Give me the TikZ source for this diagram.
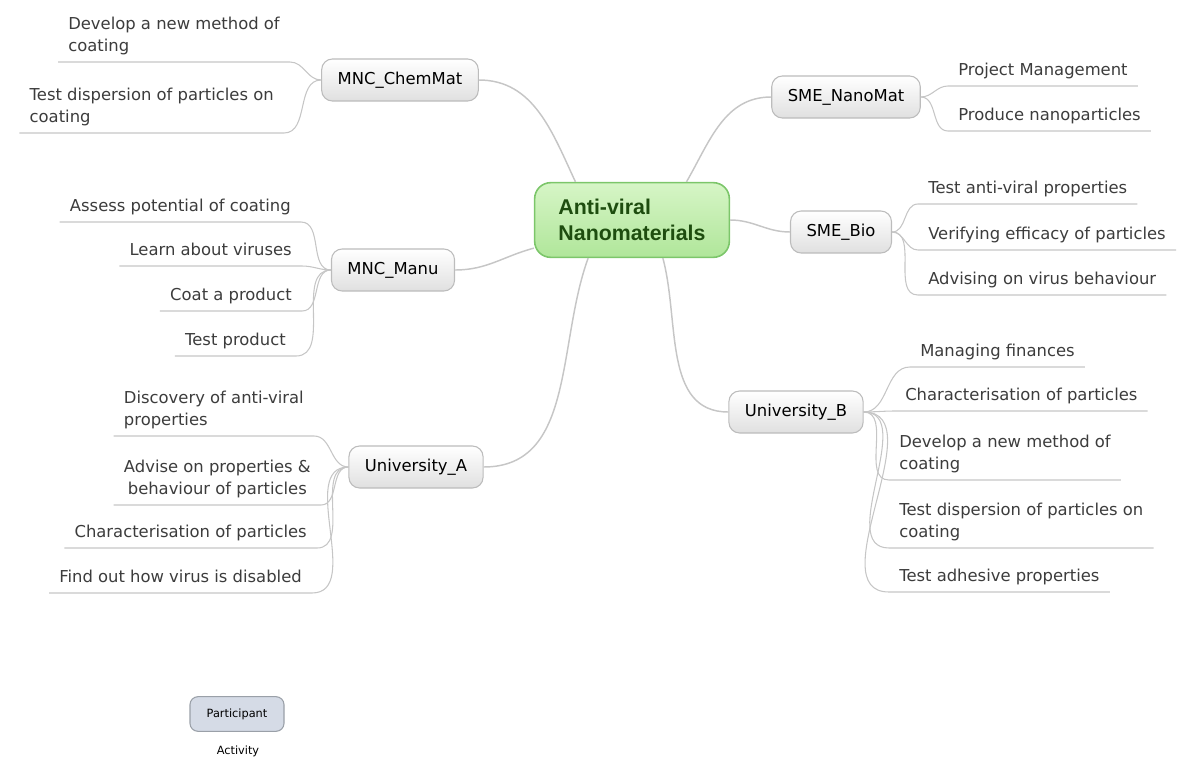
\documentclass[tikz,border=0pt]{standalone}
\usepackage{fontspec}
\setmainfont{DejaVu Sans}
\newfontfamily\hubfont{Liberation Sans}
\usetikzlibrary{positioning}
\definecolor{cline}{HTML}{C6C6C6}
\definecolor{ctext}{HTML}{3C3C3C}
\definecolor{chubd}{HTML}{7CC66A}
\definecolor{chubt}{HTML}{D6F5C6}
\definecolor{chubb}{HTML}{B0E69A}
\definecolor{chubtx}{HTML}{1E4D0F}
\definecolor{cpartd}{HTML}{BCBCBC}
\definecolor{cpartb}{HTML}{E0E0E0}
\definecolor{clegf}{HTML}{D5DBE6}
\definecolor{clegd}{HTML}{9AA0A8}
\tikzset{
  every picture/.style={font=\fontsize{12.3}{17}\selectfont},
  hub/.style={draw=chubd, line width=1.2pt, rounded corners=12pt, top color=chubt, bottom color=chubb,
    minimum width=146pt, minimum height=56pt, align=left, text=chubtx, font=\hubfont\fontsize{16}{19}\selectfont\bfseries},
  party/.style={draw=cpartd, line width=0.8pt, rounded corners=8pt, top color=white, bottom color=cpartb,
    minimum height=31.5pt, inner xsep=12pt, text=black},
  act/.style={text=ctext, inner xsep=7.5pt, inner ysep=4.5pt, text depth=2.9pt, align=left},
  branch/.style={draw=cline, line width=1.1pt},
  twig/.style={draw=cline, line width=0.8pt},
  legbox/.style={draw=clegd, line width=0.8pt, rounded corners=6pt, fill=clegf,
    minimum width=70.5pt, minimum height=26pt, font=\fontsize{8.5}{11}\selectfont},
}
\begin{document}
\begin{tikzpicture}[x=0.75pt, y=-0.75pt]
\useasboundingbox (0,0) rectangle (1182,760);
  % centre and participants
  \node[hub] (hub) at (632,220) {Anti-viral\\Nanomaterials};
  \node[party] (chem) at (400,80) {MNC\_ChemMat};
  \node[party] (manu) at (393,270) {MNC\_Manu};
  \node[party] (unia) at (416,467) {University\_A};
  \node[party] (nano) at (846,97) {SME\_NanoMat};
  \node[party] (bio) at (841,232) {SME\_Bio};
  \node[party] (unib) at (796,412) {University\_B};

  \draw[branch] (hub.146) to[out=115,in=0] (chem.east);
  \draw[branch] (hub.196) to[out=195,in=0] (manu.east);
  \draw[branch] (hub.221) to[out=250,in=0] (unia.east);
  \draw[branch] (hub.35) to[out=60,in=180] (nano.west);
  \draw[branch] (hub.east) to[out=0,in=180] (bio.west);
  \draw[branch] (hub.309) to[out=285,in=180] (unib.west);

  % activities, left side
  \node[act, anchor=south east] (chem1) at (290,62) {Develop a new method of\\coating};
  \node[act, anchor=south east] (chem2) at (284,133) {Test dispersion of particles on\\coating};
  \node[act, anchor=south east] (manu1) at (301,222) {Assess potential of coating};
  \node[act, anchor=south east] (manu2) at (302,266) {Learn about viruses};
  \node[act, anchor=south east] (manu3) at (302,311) {Coat a product};
  \node[act, anchor=south east] (manu4) at (296,356) {Test product};
  \node[act, anchor=south east] (unia1) at (314,436) {Discovery of anti-viral\\properties};
  \node[act, anchor=south east, align=center] (unia2) at (321,505) {Advise on properties \&\\behaviour of particles};
  \node[act, anchor=south east] (unia3) at (317,548) {Characterisation of particles};
  \node[act, anchor=south east] (unia4) at (312,593) {Find out how virus is disabled};

  \foreach \p/\a in {chem/chem1, chem/chem2, manu/manu1, manu/manu2, manu/manu3, manu/manu4,
                     unia/unia1, unia/unia2, unia/unia3, unia/unia4}
    \draw[twig] (\p.west) to[out=180,in=0] (\a.south east) -- (\a.south west);

  % activities, right side
  \node[act, anchor=south west] (nano1) at (948,86) {Project Management};
  \node[act, anchor=south west] (nano2) at (948,131) {Produce nanoparticles};
  \node[act, anchor=south west] (bio1) at (918,204) {Test anti-viral properties};
  \node[act, anchor=south west] (bio2) at (918,250) {Verifying efficacy of particles};
  \node[act, anchor=south west] (bio3) at (918,295) {Advising on virus behaviour};
  \node[act, anchor=south west] (unib1) at (910,367) {Managing finances};
  \node[act, anchor=south west] (unib2) at (895,411) {Characterisation of particles};
  \node[act, anchor=south west] (unib3) at (889,480) {Develop a new method of\\coating};
  \node[act, anchor=south west] (unib4) at (889,548) {Test dispersion of particles on\\coating};
  \node[act, anchor=south west] (unib5) at (889,592) {Test adhesive properties};

  \foreach \p/\a in {nano/nano1, nano/nano2, bio/bio1, bio/bio2, bio/bio3,
                     unib/unib1, unib/unib2, unib/unib3, unib/unib4, unib/unib5}
    \draw[twig] (\p.east) to[out=0,in=180] (\a.south west) -- (\a.south east);

  % legend
  \node[legbox] (legp) at (237,714) {Participant};
  \node[font=\fontsize{8.5}{11}\selectfont] (lega) at (238,751) {Activity};
\end{tikzpicture}
\end{document}
